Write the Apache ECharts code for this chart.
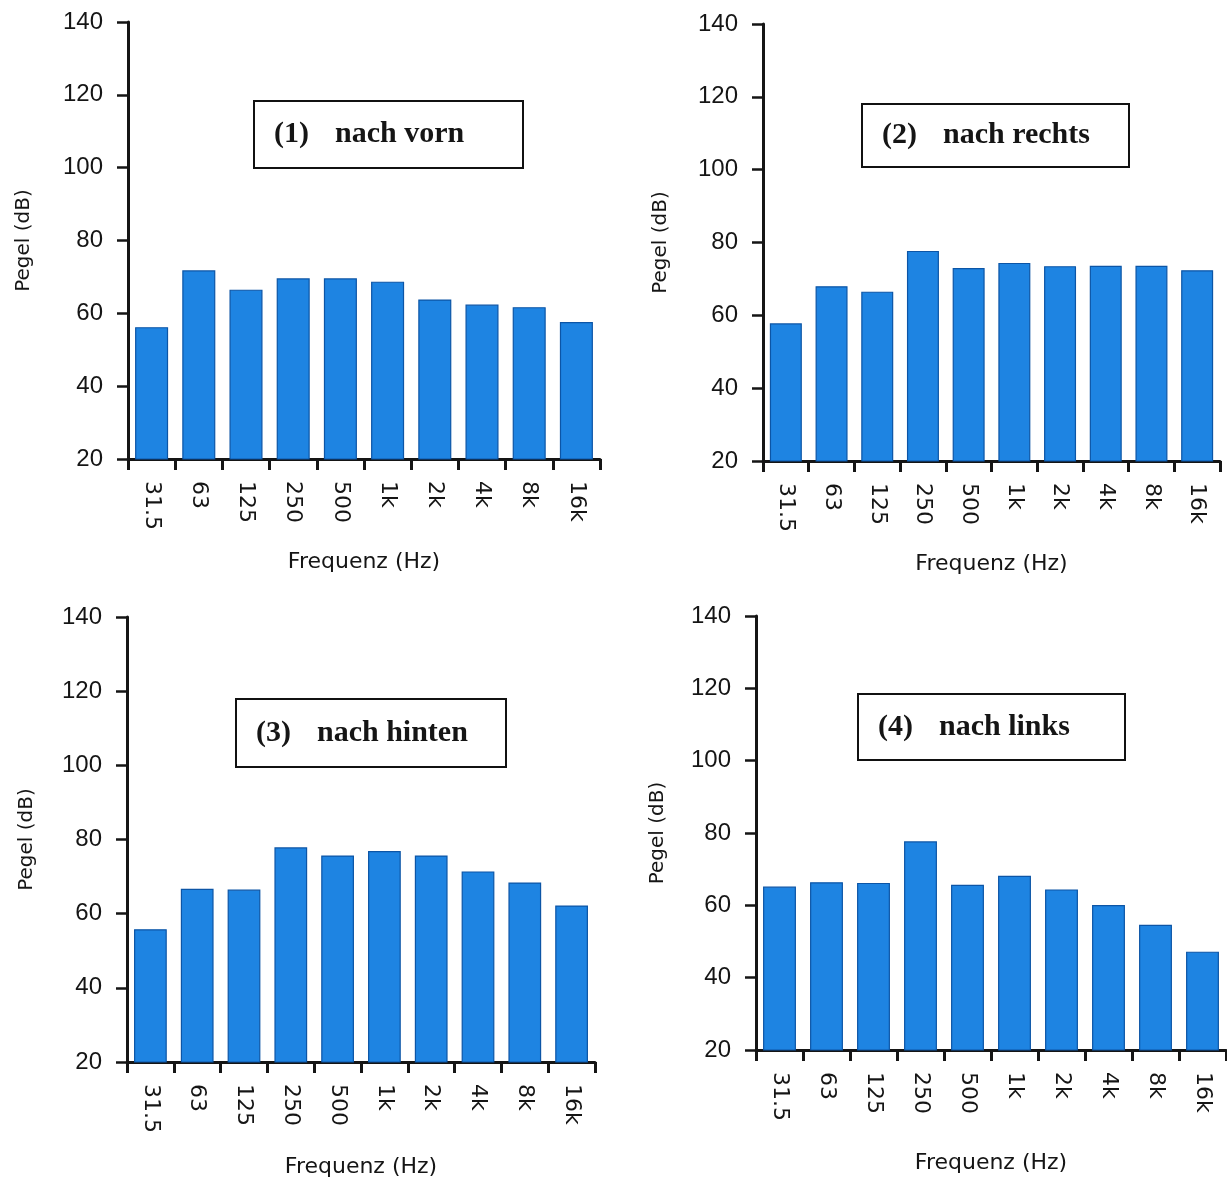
<!DOCTYPE html>
<html>
<head>
<meta charset="utf-8">
<title>Pegel nach Richtung</title>
<script src="https://cdn.jsdelivr.net/npm/echarts@6/dist/echarts.min.js"></script>
<style>
  html, body { margin: 0; padding: 0; background: #ffffff; }
  #chart { width: 1227px; height: 1182px; }
</style>
</head>
<body>
<div id="chart"></div>
<script>
// Octave band centre frequencies
const frequencies = ['31.5', '63', '125', '250', '500', '1k', '2k', '4k', '8k', '16k'];

// Level per octave band (dB) for each direction
const levelsFront = [56.2, 71.8, 66.5, 69.6, 69.6, 68.7, 63.8, 62.4, 61.7, 57.6];
const levelsRight = [57.8, 68.0, 66.5, 77.7, 73.0, 74.4, 73.5, 73.6, 73.6, 72.4];
const levelsBack  = [55.8, 66.7, 66.5, 77.9, 75.7, 76.9, 75.7, 71.4, 68.4, 62.2];
const levelsLeft  = [65.2, 66.4, 66.2, 77.7, 65.7, 68.2, 64.4, 60.1, 54.6, 47.2];

// Panel captions
const panelNumbers = ['(1)', '(2)', '(3)', '(4)'];
const panelTitles = ['nach vorn', 'nach rechts', 'nach hinten', 'nach links'];

// Level axis
const levelMin = 20;
const levelMax = 140;
const levelStep = 20;

const yAxisTitle = 'Pegel (dB)';
const xAxisTitle = 'Frequenz (Hz)';

const panelData = [levelsFront, levelsRight, levelsBack, levelsLeft];

// Layout of the four plot areas
const grids = [
  { left: 128, top: 22,  width: 472, height: 437 },
  { left: 763, top: 24,  width: 457, height: 437 },
  { left: 127, top: 617, width: 468, height: 445 },
  { left: 756, top: 616, width: 470, height: 434 }
];
const xNameGaps = [92, 92, 94, 102];
const yNameGaps = [94, 92, 90, 88];
// Caption boxes [x, y, w, h]
const captionBoxes = [
  [253, 100, 269, 67],
  [861, 103, 267, 63],
  [235, 698, 270, 68],
  [857, 693, 267, 66]
];

const ink = '#151515';
const barFill = '#1e84e2';
const barEdge = '#0c55a6';

const chart = echarts.init(document.getElementById('chart'), null, { renderer: 'canvas' });

const xAxes = grids.map((g, i) => ({
  type: 'category',
  gridIndex: i,
  data: frequencies,
  boundaryGap: true,
  name: xAxisTitle,
  nameLocation: 'middle',
  nameGap: xNameGaps[i],
  nameTextStyle: { fontFamily: 'DejaVu Sans', fontSize: 22, color: ink },
  axisLine: { show: true, lineStyle: { color: ink, width: 3 } },
  axisTick: { show: true, alignWithLabel: false, interval: 0, length: 11, lineStyle: { color: ink, width: 3 } },
  axisLabel: {
    interval: 0,
    rotate: -90,
    margin: 22,
    fontFamily: 'DejaVu Sans',
    fontSize: 22,
    color: ink
  },
  splitLine: { show: false }
}));

const yAxes = grids.map((g, i) => ({
  type: 'value',
  gridIndex: i,
  min: levelMin,
  max: levelMax,
  interval: levelStep,
  name: yAxisTitle,
  nameLocation: 'middle',
  nameGap: yNameGaps[i],
  nameRotate: 90,
  nameTextStyle: { fontFamily: 'DejaVu Sans', fontSize: 20, color: ink },
  axisLine: { show: true, lineStyle: { color: ink, width: 3 } },
  axisTick: { show: true, length: 11, lineStyle: { color: ink, width: 2.5 } },
  axisLabel: {
    margin: 25,
    fontFamily: 'Liberation Sans',
    fontSize: 24,
    color: ink
  },
  splitLine: { show: false }
}));

const series = panelData.map((values, i) => ({
  type: 'bar',
  xAxisIndex: i,
  yAxisIndex: i,
  data: values,
  barCategoryGap: '30%',
  itemStyle: { color: barFill, borderColor: barEdge, borderWidth: 1.2 },
  emphasis: { disabled: true },
  animation: false
}));

// Caption boxes drawn as rectangles with text
const graphics = captionBoxes.map((b, i) => ({
  type: 'group',
  left: b[0],
  top: b[1],
  children: [
    {
      type: 'rect',
      shape: { x: 0, y: 0, width: b[2], height: b[3] },
      style: { fill: '#ffffff', stroke: '#111111', lineWidth: 2 }
    },
    {
      type: 'text',
      x: 20,
      y: b[3] / 2,
      style: {
        text: '{n|' + panelNumbers[i] + '}{t|' + panelTitles[i] + '}',
        verticalAlign: 'middle',
        align: 'left',
        rich: {
          n: { fontFamily: 'Liberation Serif', fontWeight: 'bold', fontSize: 30, fill: '#151515', padding: [0, 26, 0, 0] },
          t: { fontFamily: 'Liberation Serif', fontWeight: 'bold', fontSize: 30, fill: '#151515' }
        }
      }
    }
  ]
}));

chart.setOption({
  backgroundColor: '#ffffff',
  animation: false,
  grid: grids.map(g => Object.assign({ containLabel: false }, g)),
  xAxis: xAxes,
  yAxis: yAxes,
  series: series,
  graphic: graphics
});
</script>
</body>
</html>
